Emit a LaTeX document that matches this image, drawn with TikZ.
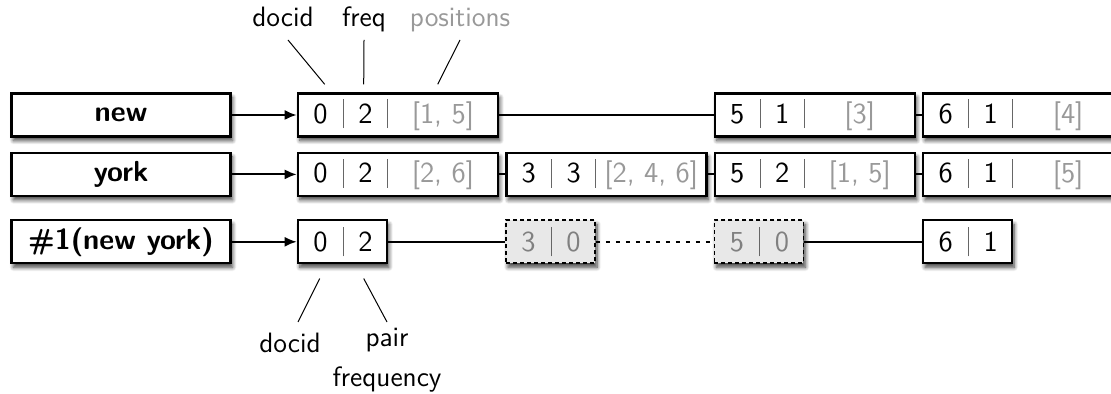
\documentclass[tikz,border=0pt]{standalone}
\usepackage{fontspec}
\usetikzlibrary{positioning,shadows.blur,arrows.meta}

\definecolor{posgray}{gray}{0.6}
\definecolor{ghostfill}{gray}{0.91}
\definecolor{ghosttext}{gray}{0.5}
\definecolor{bargray}{gray}{0.4}

\newcommand{\sepbar}{{\color{bargray}\rule[-2.3pt]{0.5pt}{14.5pt}}}
\newcommand{\pcells}[3]{\makebox[22.5pt]{#1}\sepbar\makebox[21.5pt]{#2}\sepbar\makebox[55pt]{\color{posgray}#3}}
\newcommand{\duocells}[2]{\makebox[22.5pt]{#1}\sepbar\makebox[21.5pt]{#2}}

\tikzset{
  boxshadow/.style={blur shadow={shadow xshift=1pt, shadow yshift=-2pt,
    shadow blur radius=2pt, shadow blur steps=8, shadow opacity=75}},
  term/.style={draw, line width=1.2pt, fill=white, boxshadow, inner sep=0pt,
    minimum width=109.5pt, minimum height=21.5pt,
    font=\fontsize{14.5}{17}\selectfont\sffamily\bfseries},
  post/.style={draw, line width=1.2pt, fill=white, boxshadow, inner sep=0pt,
    minimum height=21.5pt, font=\fontsize{14.5}{17}\selectfont\sffamily},
  ghost/.style={post, line width=0.9pt, dash pattern=on 2pt off 1.5pt,
    fill=ghostfill, text=ghosttext},
  link/.style={line width=1pt},
  feed/.style={line width=1pt, -{Latex[length=6pt,width=5pt]}},
  tick/.style={line width=0.5pt},
  note/.style={font=\fontsize{14}{20}\selectfont\sffamily}
}

\begin{document}
\begin{tikzpicture}[x=0.5pt, y=-0.5pt, node distance=3pt]
\useasboundingbox (0,0) rectangle (1111,394);

% terms
\node[term] (new) at (121,115) {new};
\node[term, below=7pt of new] (york) {york};
\node[term, below=11pt of york] (ny) {\#1(new york)};

% york postings
\node[post, right=32.5pt of york] (y1) {\pcells{0}{2}{[2, 6]}};
\node[post, right=of y1] (y2) {\pcells{3}{3}{[2, 4, 6]}};
\node[post, right=of y2] (y3) {\pcells{5}{2}{[1, 5]}};
\node[post, right=of y3] (y4) {\pcells{6}{1}{[5]}};

% new postings
\node[post, above=7pt of y1] (n1) {\pcells{0}{2}{[1, 5]}};
\node[post, above=7pt of y3] (n3) {\pcells{5}{1}{[3]}};
\node[post, above=7pt of y4] (n4) {\pcells{6}{1}{[4]}};

% pair postings
\node[post, below=11pt of y1.south west, anchor=north west] (p1) {\duocells{0}{2}};
\node[ghost, anchor=west] (p2) at (p1.center -| y2.west) {\duocells{3}{0}};
\node[ghost, anchor=west] (p3) at (p1.center -| y3.west) {\duocells{5}{0}};
\node[post, anchor=west] (p4) at (p1.center -| y4.west) {\duocells{6}{1}};

\draw[feed] (new) -- (n1);
\draw[feed] (york) -- (y1);
\draw[feed] (ny) -- (p1);

\draw[link] (n1) -- (n3);
\draw[link] (n3) -- (n4);
\draw[link] (y1) -- (y2);
\draw[link] (y2) -- (y3);
\draw[link] (y3) -- (y4);
\draw[link] (p1) -- (p2);
\draw[link, dash pattern=on 2pt off 3pt] (p2) -- (p3);
\draw[link] (p3) -- (p4);

% labels
\node[note, anchor=base] (tdoc) at (283,27) {docid};
\node[note, anchor=base] (tfreq) at (364,27) {freq};
\node[note, anchor=base, text=posgray] (tpos) at (460,27) {positions};
\node[note, anchor=base] (bdoc) at (290,353) {docid};
\node[note, align=center] (bfreq) at (387,360) {pair\\frequency};

\draw[tick] ([shift={(5,13)}]tdoc.base) -- ([shift={(28,-8)}]n1.north west);
\draw[tick] ([shift={(0,13)}]tfreq.base) -- ([shift={(67,-8)}]n1.north west);
\draw[tick] ([shift={(0,13)}]tpos.base) -- ([shift={(141,-8)}]n1.north west);
\draw[tick] ([shift={(23,14)}]p1.south west) -- ([shift={(8,-31)}]bdoc.base);
\draw[tick] ([shift={(67,14)}]p1.south west) -- ([shift={(0,-38)}]bfreq.center);
\end{tikzpicture}
\end{document}
